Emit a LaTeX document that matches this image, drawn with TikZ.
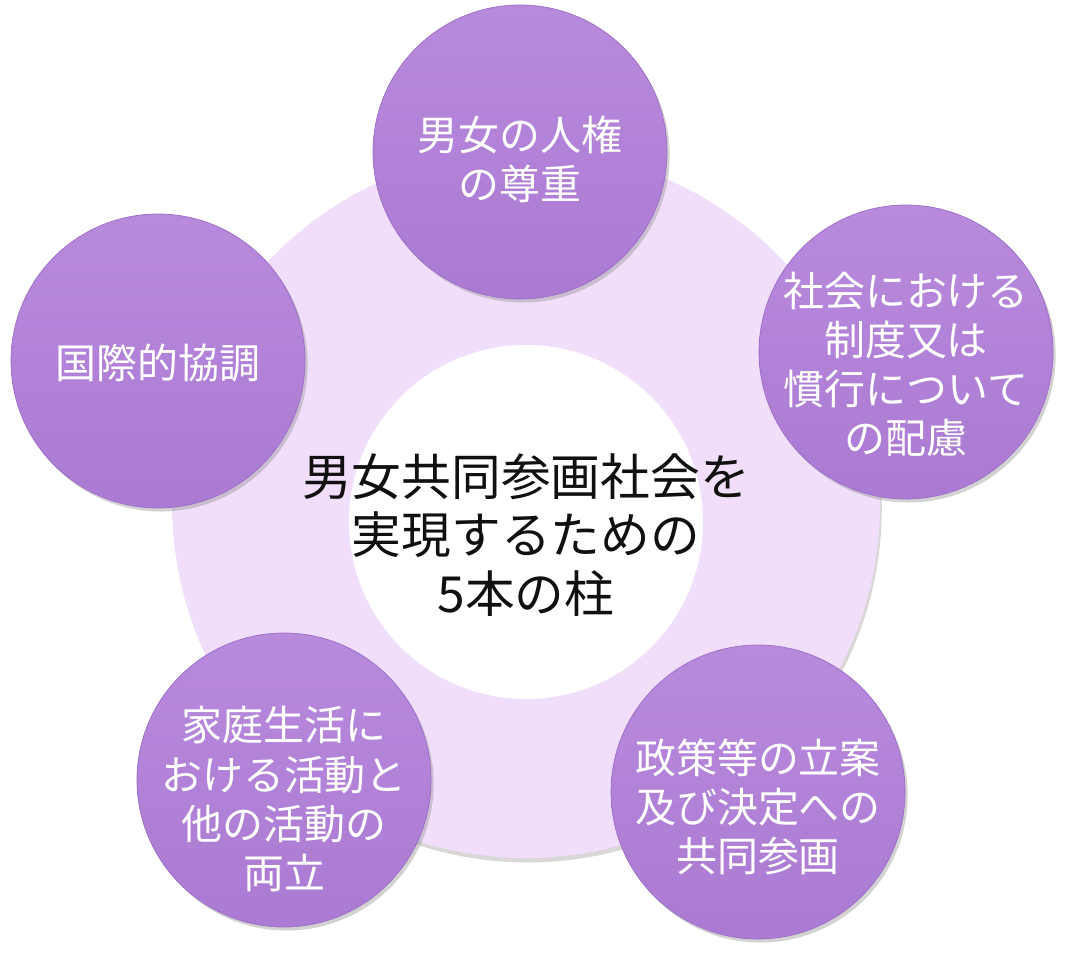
\documentclass[tikz,border=0pt]{standalone}
\usepackage{fontspec}
\setmainfont{Noto Sans CJK JP}
\usetikzlibrary{shadows}
\definecolor{pillartop}{HTML}{B88ADC}
\definecolor{pillarbot}{HTML}{AB7AD3}
\definecolor{pillaredge}{HTML}{9C6CC6}
\definecolor{ringlilac}{HTML}{F1DEFB}
\definecolor{inkblack}{HTML}{101010}

\begin{document}
\begin{tikzpicture}[
  every node/.style={text=inkblack},
  pillarbox/.style={circle, inner sep=0pt, minimum size=5.88cm, top color=pillartop, bottom color=pillarbot,
    draw=pillaredge, line width=0.4pt,
    drop shadow={shadow xshift=1.5pt, shadow yshift=-2pt, opacity=0.35}},
  pillartext/.style={align=center, text=white, inner sep=0pt, font=\fontsize{23.3pt}{27.9pt}\selectfont},
]

% Canvas
\fill[white] (0,0) rectangle (21.46,19.04);
\useasboundingbox (0,0) rectangle (21.46,19.04);

% Ring and centre
\node[circle, fill=ringlilac, inner sep=0pt, minimum size=14.16cm,
  drop shadow={shadow xshift=1pt, shadow yshift=-2.5pt, opacity=0.3}] (ring) at (10.52,8.96) {};
\node[circle, fill=white, inner sep=0pt, minimum size=7.08cm,
  label={[align=center, yshift=-0.26cm, font=\fontsize{28.3pt}{33.5pt}\selectfont]center:男女共同参画社会を\\実現するための\\5本の柱}] (core) at (10.52,8.60) {};

% Top pillar
\node[pillarbox, label={[pillartext, yshift=-0.15cm]center:男女の人権\\の尊重}] (respect) at (10.40,16.00) {};

% Right pillar
\node[pillarbox, label={[pillartext, yshift=-0.24cm]center:社会における\\制度又は\\慣行について\\の配慮}] (custom) at (18.12,12.00) {};

% Left pillar
\node[pillarbox, label={[pillartext, yshift=-0.04cm]center:国際的協調}] (intl) at (3.16,11.82) {};

% Bottom left pillar
\node[pillarbox, label={[pillartext, yshift=-0.38cm]center:家庭生活に\\おける活動と\\他の活動の\\両立}] (family) at (5.68,3.44) {};

% Bottom right pillar
\node[pillarbox, label={[pillartext, yshift=-0.3cm]center:政策等の立案\\及び決定への\\共同参画}] (policy) at (15.16,3.20) {};

\end{tikzpicture}
\end{document}
